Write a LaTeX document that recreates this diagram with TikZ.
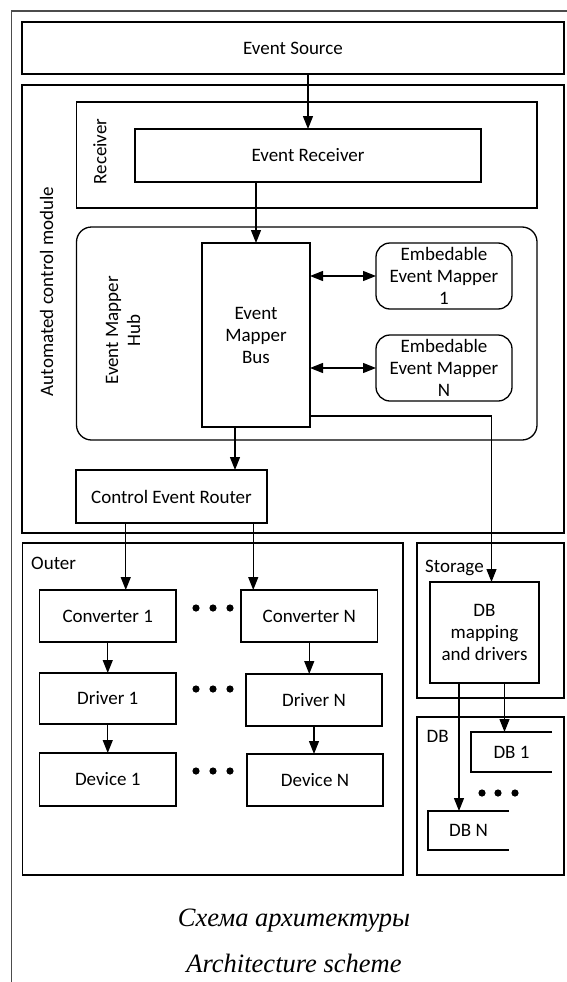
\documentclass[tikz,border=0pt]{standalone}
\usepackage{fontspec}
\setmainfont{Liberation Serif}
\newfontfamily\diagfont{Carlito}
\usetikzlibrary{arrows.meta,positioning}

\begin{document}
\begin{tikzpicture}[x=1pt, y=-1pt,
    font=\diagfont\fontsize{19pt}{22pt}\selectfont,
    box/.style={draw, line width=1.3pt, inner sep=0pt, outer sep=0pt,
      align=center, anchor=north west},
    rbox/.style={box, rounded corners=14pt},
    lbl/.style={inner sep=0pt, align=center},
    caption/.style={inner sep=0pt, anchor=base,
      font=\rmfamily\itshape\fontsize{26.5pt}{30pt}\selectfont},
    link/.style={-{Triangle[length=13pt, width=10pt]}, line width=1.3pt},
    dlink/.style={{Triangle[length=13pt, width=10pt]}-{Triangle[length=13pt, width=10pt]},
      line width=1.3pt},
    dbstub/.style={inner sep=0pt, outer sep=0pt, minimum width=81pt,
      minimum height=40pt, anchor=north west}]
\useasboundingbox (0,0) rectangle (567,982);
\draw[line width=1.3pt, black!70] (11.7,982) -- (11.7,11) -- (567,11);

% containers
\node[box, minimum width=542pt, minimum height=52pt] (es) at (22,22) {Event Source};
\node[box, minimum width=542pt, minimum height=448pt] (acm) at (22,85) {};
\node[box, minimum width=460.5pt, minimum height=106pt] (recv) at (76.5,102) {};
\node[rbox, rounded corners=15pt, minimum width=460.5pt, minimum height=213pt] (hub) at (76.5,227) {};
\node[box, minimum width=380.5pt, minimum height=332pt] (outer) at (22.5,543) {};
\node[box, minimum width=147pt, minimum height=155pt] (storage) at (417,543) {};
\node[box, minimum width=147pt, minimum height=158pt] (dbgroup) at (417,717) {};

\node[lbl, rotate=90] (acmlbl) at (46.5,291.5) {Automated control module};
\node[lbl, rotate=90] (recvlbl) at (100,151.5) {Receiver};
\node[lbl, rotate=90] (hublbl) at (123,330.5) {Event Mapper\\Hub};
\node[lbl, anchor=base west] (outerlbl) at (31,569) {Outer};
\node[lbl, anchor=base west] (storelbl) at (425,572) {Storage};
\node[lbl, anchor=base west] (dblbl) at (426.5,742) {DB};

% blocks
\node[box, minimum width=346pt, minimum height=53pt] (erecv) at (135,129) {Event Receiver};
\node[box, minimum width=108pt, minimum height=184pt] (bus) at (202,243) {Event\\Mapper\\Bus};
\node[rbox, minimum width=136pt, minimum height=66pt] (emb1) at (376,243) {Embedable\\Event Mapper\\1};
\node[rbox, minimum width=136pt, minimum height=66pt, below=26pt of emb1] (embn) {Embedable\\Event Mapper\\N};
\node[box, minimum width=191pt, minimum height=53pt] (router) at (76,470) {Control Event Router};

\node[box, minimum width=136.5pt, minimum height=52pt] (conv1) at (39.5,590) {Converter 1};
\node[box, minimum width=136.5pt, minimum height=51pt, below=31pt of conv1] (drv1) {Driver 1};
\node[box, minimum width=136.5pt, minimum height=53pt, below=29pt of drv1] (dev1) {Device 1};
\node[box, minimum width=136.5pt, minimum height=52pt] (convn) at (241,590) {Converter N};
\node[box, minimum width=136pt, minimum height=52pt] (drvn) at (246,674) {Driver N};
\node[box, minimum width=136pt, minimum height=52pt] (devn) at (247,754) {Device N};

\node[box, minimum width=109pt, minimum height=101pt] (dbmap) at (430,582) {DB\\mapping\\and drivers};
\node[dbstub] (db1) at (471,732) {DB 1};
\node[dbstub, minimum height=39pt] (dbn) at (428,811) {DB N};
\draw[line width=1.3pt] (db1.north east) -- (db1.north west) -- (db1.south west) -- (db1.south east);
\draw[line width=1.3pt] (dbn.north east) -- (dbn.north west) -- (dbn.south west) -- (dbn.south east);

\foreach \y in {608,689,771}
  \foreach \x in {196,213,230}
    \fill (\x,\y) circle (3.6pt);
\foreach \x in {482,498,515}
  \fill (\x,793) circle (3.6pt);

% connectors
\coordinate (r1) at ([xshift=18pt]conv1.north);
\coordinate (rn) at ([xshift=-56pt]convn.north);
\coordinate (busout) at ([xshift=33pt]bus.south west);
\coordinate (dbin) at ([xshift=7pt]dbmap.north);
\coordinate (d1in) at ([xshift=-7pt]db1.north);
\coordinate (dnin) at ([xshift=-9.5pt]dbn.north);
\draw[link] (es.south -| erecv.north) -- (erecv.north);
\draw[link] (erecv.south -| bus.north) -- (bus.north);
\draw[dlink] (bus.east |- emb1.west) -- (emb1.west);
\draw[dlink] (bus.east |- embn.west) -- (embn.west);
\draw[link] (busout) -- (busout |- router.north);
\draw[link] ([yshift=11pt]bus.south east) -| (dbin);
\draw[link] (router.south -| r1) -- (r1);
\draw[link] (router.south -| rn) -- (rn);
\draw[link] (conv1) -- (drv1);
\draw[link] (drv1) -- (dev1);
\draw[link] (convn.south) -- (convn.south |- drvn.north);
\draw[link] (drvn.south) -- (drvn.south |- devn.north);
\draw[link] (dbmap.south -| d1in) -- (d1in);
\draw[link] (dbmap.south -| dnin) -- (dnin);

\node[caption] (cap1) at (294,926) {Схема архитектуры};
\node[caption] (cap2) at (294,972) {Architecture scheme};
\end{tikzpicture}
\end{document}
